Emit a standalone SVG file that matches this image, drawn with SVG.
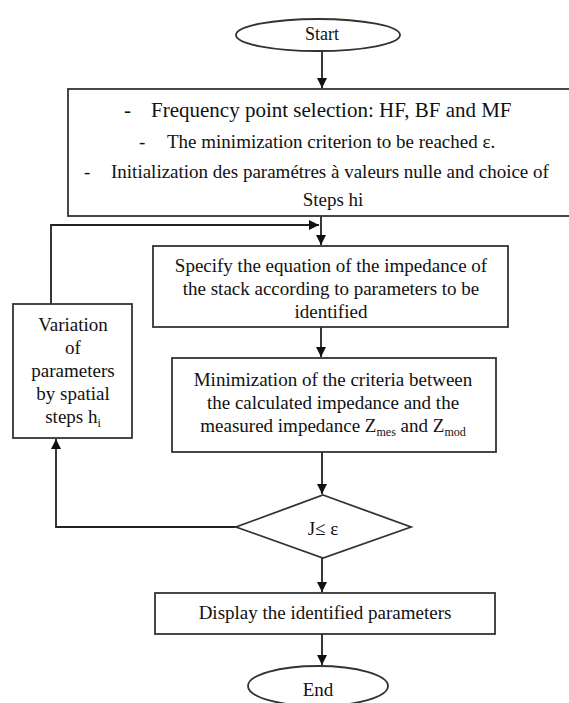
<svg xmlns="http://www.w3.org/2000/svg" width="569" height="703" viewBox="0 0 569 703">
  <style>
    .shape { fill: #ffffff; stroke: #333333; stroke-width: 1.8; }
    .wire { fill: none; stroke: #222222; stroke-width: 1.8; }
    text { font-family: 'Liberation Serif', 'Times New Roman', serif; font-size: 19px; fill: #111111; }
    .big { font-size: 21px; }
    .c { text-anchor: middle; }
    .sub { font-size: 12px; }
  </style>
  <defs>
    <marker id="arrow" viewBox="0 0 10 10" refX="10" refY="5" markerWidth="10" markerHeight="10" markerUnits="userSpaceOnUse" orient="auto">
      <path d="M0,0 L10,5 L0,10 Z" fill="#111111"/>
    </marker>
  </defs>

  <rect width="569" height="703" fill="#ffffff"/>

  <!-- connectors -->
  <g id="connectors">
    <line class="wire" x1="322" y1="51" x2="322" y2="88" marker-end="url(#arrow)"/>
    <line class="wire" x1="321" y1="216" x2="321" y2="245" marker-end="url(#arrow)"/>
    <polyline class="wire" points="51,304 51,225 319,225" marker-end="url(#arrow)"/>
    <line class="wire" x1="321" y1="327" x2="321" y2="357" marker-end="url(#arrow)"/>
    <line class="wire" x1="322" y1="452" x2="322" y2="494" marker-end="url(#arrow)"/>
    <polyline class="wire" points="236,527 56,527 56,439" marker-end="url(#arrow)"/>
    <line class="wire" x1="322" y1="558" x2="322" y2="592" marker-end="url(#arrow)"/>
    <line class="wire" x1="322" y1="634" x2="322" y2="665" marker-end="url(#arrow)"/>
  </g>

  <!-- start -->
  <g id="start">
    <ellipse class="shape" cx="318" cy="35" rx="82" ry="16"/>
    <text class="c" x="322" y="40" style="font-size:18px">Start</text>
  </g>

  <!-- initialisation block -->
  <g id="init">
    <rect class="shape" x="68" y="89" width="504" height="127"/>
    <text class="big" x="124" y="117">-</text>
    <text class="big" x="151" y="117">Frequency point selection: HF, BF and MF</text>
    <text x="139" y="148">-</text>
    <text x="167" y="148">The minimization criterion to be reached ε.</text>
    <text x="84" y="178">-</text>
    <text x="111" y="178">Initialization des paramétres à valeurs nulle and choice of</text>
    <text class="c" x="333" y="206">Steps hi</text>
  </g>

  <!-- impedance equation -->
  <g id="equation">
    <rect class="shape" x="153" y="246" width="355" height="81"/>
    <text class="c" x="331" y="272">Specify the equation of the impedance of</text>
    <text class="c" x="331" y="295">the stack according to parameters to be</text>
    <text class="c" x="331" y="318">identified</text>
  </g>

  <!-- parameter variation -->
  <g id="variation">
    <rect class="shape" x="13" y="304" width="119" height="134"/>
    <text class="c" x="73" y="331">Variation</text>
    <text class="c" x="73" y="354">of</text>
    <text class="c" x="73" y="377">parameters</text>
    <text class="c" x="73" y="400">by spatial</text>
    <text class="c" x="73" y="423">steps h<tspan class="sub" dy="4">i</tspan></text>
  </g>

  <!-- criterion minimisation -->
  <g id="minimization">
    <rect class="shape" x="172" y="358" width="324" height="94"/>
    <text class="c" x="333" y="386">Minimization of the criteria between</text>
    <text class="c" x="333" y="409">the calculated impedance and the</text>
    <text class="c" x="333" y="432">measured impedance Z<tspan class="sub" dy="4">mes</tspan><tspan dy="-4"> and Z</tspan><tspan class="sub" dy="4">mod</tspan></text>
  </g>

  <!-- decision -->
  <g id="decision">
    <polygon class="shape" points="323,495 411,527 323,558 236,527"/>
    <text class="c" x="323" y="535">J≤ ε</text>
  </g>

  <!-- result display -->
  <g id="display">
    <rect class="shape" x="155" y="593" width="340" height="41"/>
    <text class="c" x="325" y="619">Display the identified parameters</text>
  </g>

  <!-- end -->
  <g id="end">
    <ellipse class="shape" cx="318" cy="686" rx="70" ry="20"/>
    <text class="c" x="318" y="696">End</text>
  </g>
</svg>
